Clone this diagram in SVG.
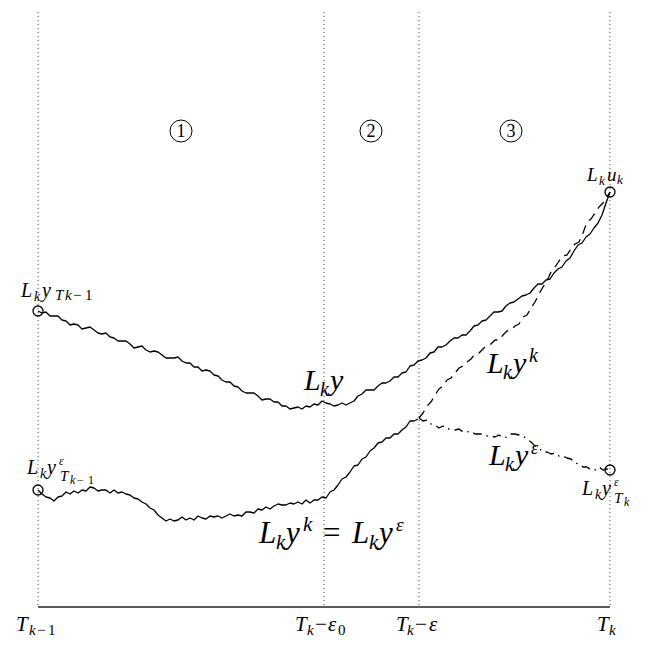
<svg xmlns="http://www.w3.org/2000/svg" width="654" height="653" viewBox="0 0 654 653">
<style>
.grid{stroke:#555;stroke-width:1;stroke-dasharray:1.2,2.8;fill:none}
.axis{stroke:#5a5a5a;stroke-width:2;fill:none}
.path{stroke:#000;stroke-width:1.3;fill:none;stroke-linejoin:round}
.dash{stroke-dasharray:9,6}
.dashdot{stroke-dasharray:9,5,1.5,5}
.pt{stroke:#000;stroke-width:1.3;fill:none}
.num{stroke:#000;stroke-width:1;fill:none}
text{font-family:"Liberation Serif","Times New Roman",serif;fill:#000;font-style:italic}
.rm{font-style:normal}
</style>
<rect width="654" height="653" fill="#fff"/>
<g id="grid">
<line class="grid" x1="38" y1="12" x2="38" y2="607"/>
<line class="grid" x1="324" y1="12" x2="324" y2="607"/>
<line class="grid" x1="419" y1="12" x2="419" y2="607"/>
<line class="grid" x1="610" y1="12" x2="610" y2="607"/>
<line class="axis" x1="38" y1="607" x2="610" y2="607"/>
</g>
<g id="connectors">
<path id="Lky" class="path" d="M38,311 L42,313 46,312 50,316 54,316 58,316 62,320 66,321 70,325 74,324 78,325 82,329 86,328 90,327 94,330 98,333 102,334 106,333 110,337 114,338 118,341 122,341 126,341 130,344 134,348 138,347 142,346 146,350 150,352 154,351 158,352 162,355 166,358 170,358 174,358 178,357 182,361 186,363 190,363 194,367 198,367 202,371 206,370 210,371 214,375 218,376 222,380 226,382 230,382 234,386 238,387 242,391 246,393 250,393 254,393 258,396 262,400 266,399 270,399 274,402 278,402 282,406 286,406 290,409 294,408 298,407 302,409 306,406 310,407 314,404 318,405 322,401 326,403 330,404 334,406 338,405 342,403 346,405 350,403 354,401 358,396 362,394 366,390 370,390 374,390 378,386 382,383 386,383 390,381 394,377 398,377 402,373 406,372 410,366 414,365 418,361 422,360 426,358 430,353 434,352 438,347 442,347 446,345 450,341 454,338 458,338 462,335 466,335 470,331 474,326 478,325 482,321 486,320 490,316 494,312 498,312 502,311 506,306 510,303 514,302 518,299 522,296 526,295 530,293 534,288 538,284 542,284 546,280 550,279 554,273 558,269 562,267 566,261 570,258 574,251 578,245 582,243 586,237 590,234 594,228 598,223 602,215 606,203 610,192"/>
<path id="Lyk_eq" class="path" d="M38,490 L42,494 46,497 50,498 54,501 58,497 62,496 66,492 70,494 74,491 78,493 82,490 86,491 90,487 94,488 98,491 102,490 106,490 110,493 114,490 118,493 122,492 126,494 130,495 134,498 138,499 142,502 146,504 150,508 154,510 158,515 162,518 166,521 170,519 174,521 178,520 182,517 186,520 190,518 194,520 198,516 202,518 206,519 210,516 214,517 218,516 222,518 226,516 230,514 234,516 238,515 242,516 246,512 250,512 254,513 258,509 262,510 266,507 270,509 274,506 278,504 282,505 286,505 290,503 294,504 298,502 302,504 306,500 310,503 314,500 318,500 322,497 326,498 330,492 334,490 338,485 342,479 346,477 350,472 354,466 358,465 362,459 366,457 370,451 374,448 378,443 382,442 386,438 390,438 394,434 398,434 402,430 406,427 410,421 414,421 418,419"/>
<path id="Lyk" class="path dash" d="M419,418 L423,413 427,406 431,402 435,395 439,389 443,386 447,380 451,378 455,373 459,368 463,366 467,362 471,359 475,354 479,353 483,349 487,345 491,344 495,340 499,340 503,335 507,331 511,330 515,326 519,324 523,317 527,315 531,308 535,302 539,294 543,287 547,281 551,272 555,267 559,261 563,256 567,255 571,249 575,244 579,242 583,233 587,222 591,219 595,213 599,207 603,203 607,197 610,192"/>
<path id="Lyeps" class="path dashdot" d="M419,418 L423,421 427,420 431,424 435,425 439,428 443,426 447,429 451,429 455,430 459,429 463,432 467,432 471,431 475,434 479,434 483,434 487,436 491,436 495,437 499,435 503,438 507,437 511,434 515,434 519,435 523,436 527,439 531,442 535,446 539,448 543,452 547,452 551,454 555,453 559,456 563,456 567,458 571,459 575,463 579,464 583,467 587,467 591,470 595,470 599,467 603,470 607,469 610,470"/>
</g>
<g id="points">
<circle class="pt" cx="38" cy="311" r="5"/>
<circle class="pt" cx="38" cy="490" r="5"/>
<circle class="pt" cx="610" cy="192" r="5"/>
<circle class="pt" cx="610" cy="470" r="5"/>
</g>
<g id="region1"><circle class="num" cx="181" cy="131" r="11"/><text class="rm" x="181" y="137" font-size="18" text-anchor="middle">1</text></g>
<g id="region2"><circle class="num" cx="371" cy="131" r="11"/><text class="rm" x="371" y="137" font-size="18" text-anchor="middle">2</text></g>
<g id="region3"><circle class="num" cx="511" cy="131" r="11"/><text class="rm" x="511" y="137" font-size="18" text-anchor="middle">3</text></g>
<g id="labels">
<text font-size="20"><tspan x="21" y="297">L</tspan><tspan x="34" y="301" font-size="14">k</tspan><tspan x="42" y="297">y</tspan><tspan x="55" y="300" font-size="15">T</tspan><tspan x="65" y="300" font-size="15">k</tspan><tspan class="rm" x="73" y="300" font-size="15">−</tspan><tspan class="rm" x="85" y="300" font-size="15">1</tspan></text>
<text font-size="20"><tspan x="27" y="474">L</tspan><tspan x="40" y="478" font-size="14">k</tspan><tspan x="47" y="474">y</tspan><tspan x="59" y="465" font-size="12">ε</tspan><tspan x="60" y="481" font-size="15">T</tspan><tspan x="70" y="484" font-size="12">k</tspan><tspan class="rm" x="77" y="484" font-size="12">−</tspan><tspan class="rm" x="88" y="484" font-size="12">1</tspan></text>
<text font-size="19"><tspan x="587" y="181">L</tspan><tspan x="599" y="185" font-size="13">k</tspan><tspan x="607" y="181">u</tspan><tspan x="617" y="184" font-size="13">k</tspan></text>
<text font-size="20"><tspan x="582" y="495">L</tspan><tspan x="595" y="499" font-size="14">k</tspan><tspan x="602" y="495">y</tspan><tspan x="614" y="486" font-size="12">ε</tspan><tspan x="614" y="503" font-size="15">T</tspan><tspan x="624" y="506" font-size="12">k</tspan></text>
<text font-size="30"><tspan x="304" y="390">L</tspan><tspan x="320" y="396" font-size="20">k</tspan><tspan x="330" y="390">y</tspan></text>
<text font-size="30"><tspan x="487" y="373">L</tspan><tspan x="503" y="379" font-size="20">k</tspan><tspan x="513" y="373">y</tspan><tspan x="529" y="362" font-size="20">k</tspan></text>
<text font-size="30"><tspan x="489" y="465">L</tspan><tspan x="505" y="471" font-size="20">k</tspan><tspan x="515" y="465">y</tspan><tspan x="531" y="454" font-size="18">ε</tspan></text>
<text font-size="31"><tspan x="259" y="543">L</tspan><tspan x="276" y="549" font-size="21">k</tspan><tspan x="286" y="543">y</tspan><tspan x="303" y="531" font-size="21">k</tspan><tspan class="rm" x="323" y="543">=</tspan><tspan x="352" y="543">L</tspan><tspan x="369" y="549" font-size="21">k</tspan><tspan x="379" y="543">y</tspan><tspan x="396" y="531" font-size="19">ε</tspan></text>
<text font-size="21"><tspan x="16" y="631">T</tspan><tspan x="29" y="635" font-size="15">k</tspan><tspan class="rm" x="37" y="635" font-size="15">−</tspan><tspan class="rm" x="48" y="635" font-size="15">1</tspan></text>
<text font-size="21"><tspan x="295" y="631">T</tspan><tspan x="307" y="635" font-size="15">k</tspan><tspan class="rm" x="315" y="631">−</tspan><tspan x="328" y="631">ε</tspan><tspan class="rm" x="338" y="635" font-size="15">0</tspan></text>
<text font-size="21"><tspan x="396" y="631">T</tspan><tspan x="407" y="635" font-size="15">k</tspan><tspan class="rm" x="415" y="631">−</tspan><tspan x="429" y="631">ε</tspan></text>
<text font-size="21"><tspan x="597" y="631">T</tspan><tspan x="609" y="635" font-size="15">k</tspan></text>
</g>
</svg>
